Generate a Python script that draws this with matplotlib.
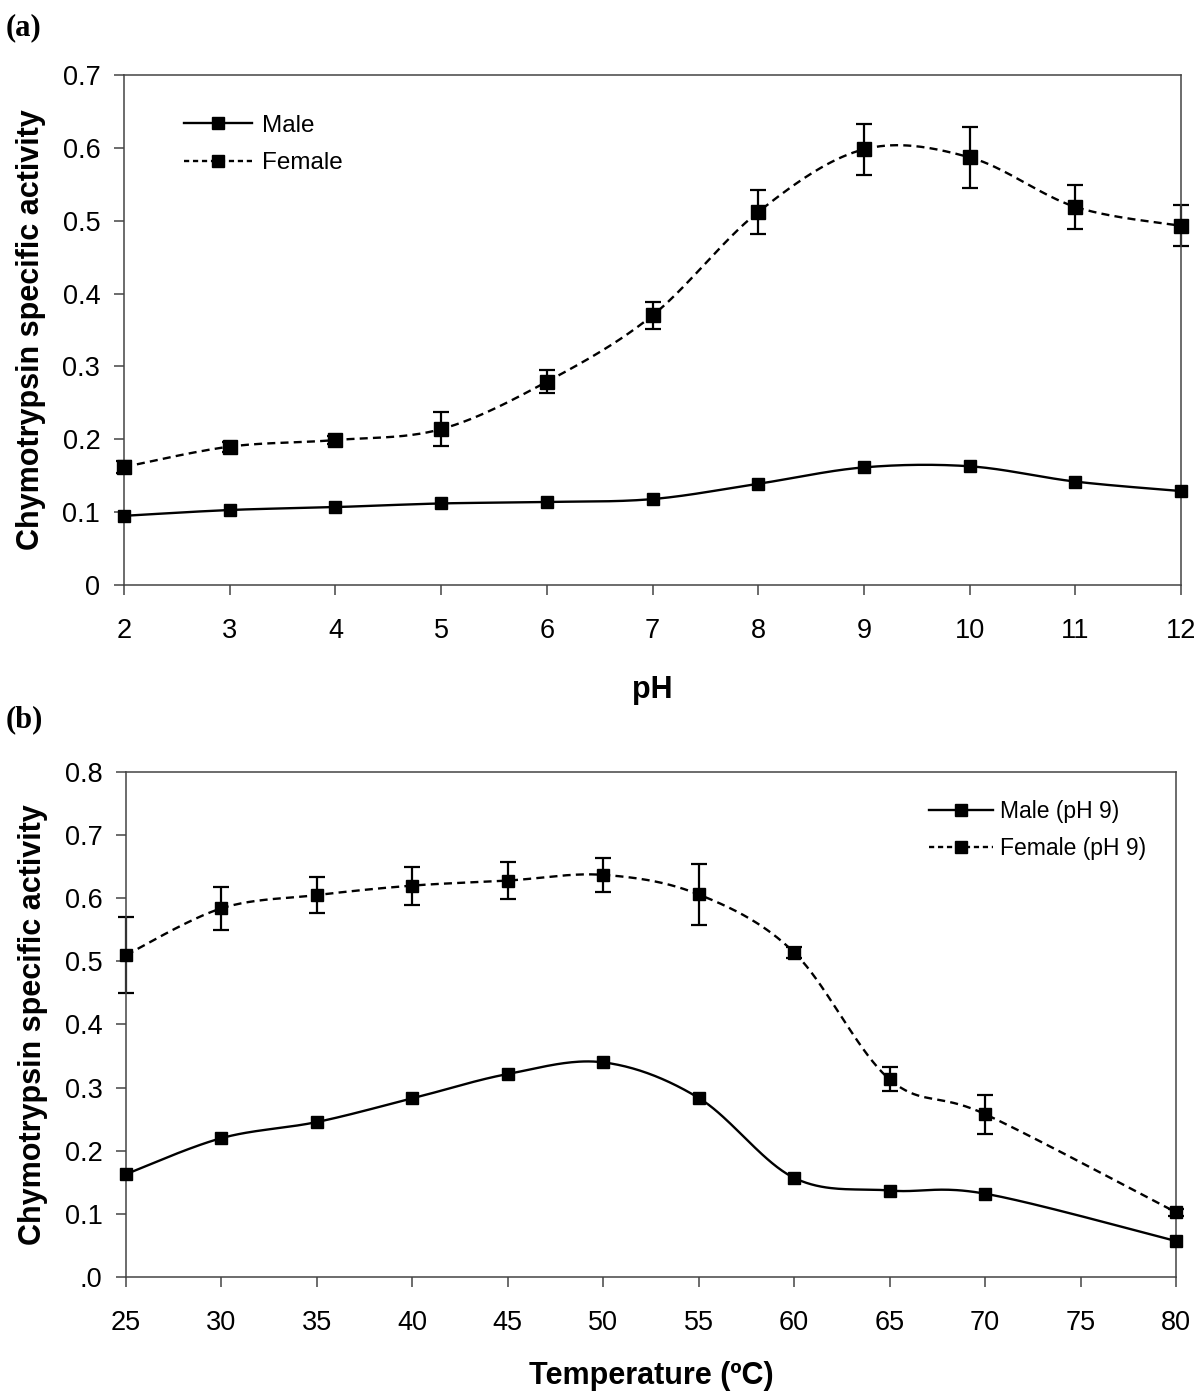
import numpy as np
import matplotlib.pyplot as plt
from matplotlib.lines import Line2D

plt.rcParams['font.family'] = ['Liberation Sans', 'DejaVu Sans']

# (a) pH profile
ph = [2, 3, 4, 5, 6, 7, 8, 9, 10, 11, 12]
male_ph = [0.095, 0.103, 0.107, 0.112, 0.114, 0.118, 0.139, 0.1615, 0.163, 0.142, 0.129]
female_ph = [0.162, 0.190, 0.199, 0.214, 0.279, 0.370, 0.512, 0.598, 0.587, 0.519, 0.493]
female_ph_err = [0.008, 0.007, 0.006, 0.023, 0.016, 0.019, 0.030, 0.035, 0.042, 0.030, 0.028]

# (b) temperature profile
temp = [25, 30, 35, 40, 45, 50, 55, 60, 65, 70, 80]
male_temp = [0.163, 0.220, 0.2455, 0.283, 0.3216, 0.340, 0.2836, 0.157, 0.137, 0.132, 0.057]
female_temp = [0.510, 0.584, 0.605, 0.620, 0.628, 0.637, 0.606, 0.514, 0.313, 0.258, 0.1025]
female_temp_err = [0.060, 0.034, 0.028, 0.030, 0.029, 0.027, 0.049, 0.008, 0.019, 0.031, 0.006]


def smooth(x, y, n=40):
    # excel style smoothed line (bezier through the points)
    x = np.asarray(x, float)
    y = np.asarray(y, float)
    xs, ys = [], []
    t = np.linspace(0, 1, n)
    for i in range(len(x) - 1):
        i0 = max(i - 1, 0)
        i3 = min(i + 2, len(x) - 1)
        c1x = x[i] + (x[i + 1] - x[i0]) / 6
        c1y = y[i] + (y[i + 1] - y[i0]) / 6
        c2x = x[i + 1] - (x[i3] - x[i]) / 6
        c2y = y[i + 1] - (y[i3] - y[i]) / 6
        bx = (1-t)**3*x[i] + 3*(1-t)**2*t*c1x + 3*(1-t)*t**2*c2x + t**3*x[i+1]
        by = (1-t)**3*y[i] + 3*(1-t)**2*t*c1y + 3*(1-t)*t**2*c2y + t**3*y[i+1]
        xs.extend(bx)
        ys.extend(by)
    return xs, ys


def style_axes(ax):
    for s in ax.spines.values():
        s.set_color('#444444')
        s.set_linewidth(1.1)
    ax.tick_params(direction='out', length=7, width=1.1, color='#444444', labelsize=19.5)
    ax.tick_params(axis='x', pad=17)
    ax.tick_params(axis='y', pad=10)


fig = plt.figure(figsize=(12, 13.99), dpi=100)
ax1 = fig.add_axes([0.1033, 0.5818, 0.8809, 0.3646])
ax2 = fig.add_axes([0.105, 0.0872, 0.875, 0.361])

lw = 1.7
dash = (0, (3.4, 2.2))

# panel a
sx, sy = smooth(ph, male_ph)
ax1.plot(sx, sy, color='black', lw=lw)
sx, sy = smooth(ph, female_ph)
ax1.plot(sx, sy, color='black', lw=lw, linestyle=dash)
eb = ax1.errorbar(ph, female_ph, yerr=female_ph_err, fmt='none', ecolor='black',
                  elinewidth=1.6, capsize=5.5, capthick=1.6)
for a in eb.lines[1] + eb.lines[2]:
    a.set_clip_on(False)
ax1.plot(ph, male_ph, 's', color='black', ms=9, clip_on=False, zorder=5)
ax1.plot(ph, female_ph, 's', color='black', ms=9.5, clip_on=False, zorder=5)

ax1.set_xlim(2, 12)
ax1.set_ylim(0, 0.7)
ax1.set_xticks(ph)
ax1.set_yticks([0, 0.1, 0.2, 0.3, 0.4, 0.5, 0.6, 0.7])
ax1.set_yticklabels(['0', '0.1', '0.2', '0.3', '0.4', '0.5', '0.6', '0.7'])
style_axes(ax1)
ax1.set_xlabel('pH', fontsize=22, fontweight='bold', labelpad=22)
ax1.set_ylabel('Chymotrypsin specific activity', fontsize=22, fontweight='bold', labelpad=12)

h1 = [Line2D([], [], color='black', lw=lw, marker='s', ms=9),
      Line2D([], [], color='black', lw=lw, linestyle=(0, (2.2, 1.6)), marker='s', ms=9)]
ax1.legend(h1, ['Male', 'Female'], loc='upper left', bbox_to_anchor=(0.036, 0.965),
           frameon=False, fontsize=17.5, handlelength=2.8, handletextpad=0.4,
           labelspacing=0.63)

# panel b
sx, sy = smooth(temp, male_temp)
ax2.plot(sx, sy, color='black', lw=lw)
sx, sy = smooth(temp, female_temp)
ax2.plot(sx, sy, color='black', lw=lw, linestyle=dash)
eb = ax2.errorbar(temp, female_temp, yerr=female_temp_err, fmt='none', ecolor='black',
                  elinewidth=1.6, capsize=5.5, capthick=1.6)
for a in eb.lines[1] + eb.lines[2]:
    a.set_clip_on(False)
ax2.plot(temp, male_temp, 's', color='black', ms=8.5, clip_on=False, zorder=5)
ax2.plot(temp, female_temp, 's', color='black', ms=9, clip_on=False, zorder=5)

ax2.set_xlim(25, 80)
ax2.set_ylim(0, 0.8)
ax2.set_xticks(range(25, 81, 5))
ax2.set_yticks([0, 0.1, 0.2, 0.3, 0.4, 0.5, 0.6, 0.7, 0.8])
ax2.set_yticklabels(['.0', '0.1', '0.2', '0.3', '0.4', '0.5', '0.6', '0.7', '0.8'])
style_axes(ax2)
ax2.set_xlabel('Temperature (\u00baC)', fontsize=22, fontweight='bold', labelpad=18)
ax2.set_ylabel('Chymotrypsin specific activity', fontsize=22, fontweight='bold', labelpad=12)

h2 = [Line2D([], [], color='black', lw=lw, marker='s', ms=8),
      Line2D([], [], color='black', lw=lw, linestyle=(0, (2.2, 1.6)), marker='s', ms=8)]
ax2.legend(h2, ['Male (pH 9)', 'Female (pH 9)'], loc='upper right', bbox_to_anchor=(0.991, 0.985),
           frameon=False, fontsize=16.5, handlelength=2.8, handletextpad=0.3,
           labelspacing=0.62)

fig.text(0.005, 0.98, '(a)', fontsize=22, fontweight='bold', family='Liberation Serif', va='center')
fig.text(0.005, 0.4853, '(b)', fontsize=22, fontweight='bold', family='Liberation Serif', va='center')

fig.savefig('out.png', dpi=100)
